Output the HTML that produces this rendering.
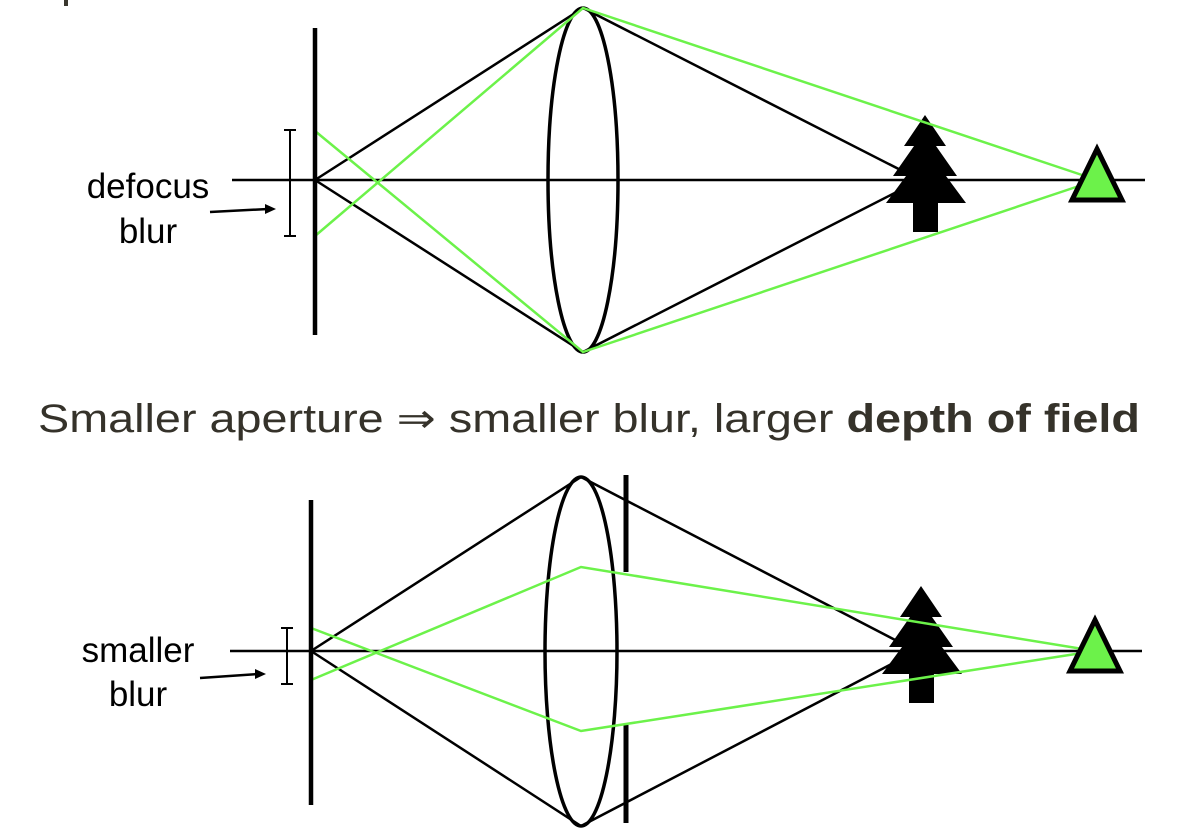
<!DOCTYPE html>
<html><head><meta charset="utf-8">
<style>
html,body{margin:0;padding:0;background:#fff;}
svg{display:block;}
text{font-family:"Liberation Sans",sans-serif;}
</style></head>
<body>
<svg id="s" width="1194" height="836" viewBox="0 0 1194 836" xmlns="http://www.w3.org/2000/svg">
<rect x="64" y="0" width="4" height="6" fill="#3a372e"/>
<text x="38" y="432" font-size="40" fill="#35322a" textLength="1102" lengthAdjust="spacingAndGlyphs">Smaller aperture ⇒ smaller blur,  larger <tspan font-weight="bold">depth of field</tspan></text>
<text x="148" y="198" font-size="35" text-anchor="middle" fill="#000">defocus</text>
<text x="148" y="243" font-size="35" text-anchor="middle" fill="#000">blur</text>
<text x="138" y="662" font-size="35" text-anchor="middle" fill="#000">smaller</text>
<text x="138" y="706" font-size="35" text-anchor="middle" fill="#000">blur</text>
</svg>
<script>
const NS="http://www.w3.org/2000/svg";
const svgEl=document.getElementById('s');
function mk(tag,attrs,name){const e=document.createElementNS(NS,tag);for(const k in attrs)e.setAttribute(k,attrs[k]);


svgEl.appendChild(e);return e;}
const G="#6cf24a";
const topD={axisY:180,sensorX:315,sensorTop:28,sensorBot:335,lensX:583,lensTop:8,lensBot:352,lensRx:35,
 greenLensTop:8,greenLensBot:352,greenSensorTop:131,greenSensorBot:236,treeX:925,treeTop:115,triX:1097,axisL:232,axisR:1145,
 bracketX:290,bracketTop:130,bracketBot:236,focusX:930,arrow:[210,212,276,209],aperture:null};
const botD={axisY:651,sensorX:311,sensorTop:500,sensorBot:805,lensX:581,lensTop:477,lensBot:826,lensRx:36,
 greenLensTop:567,greenLensBot:731,greenSensorTop:628,greenSensorBot:680,treeX:921,treeTop:586,triX:1095,axisL:230,axisR:1142,
 bracketX:287,bracketTop:628,bracketBot:684,focusX:926,arrow:[200,678,266,674],aperture:{x:626,t1:475,b1:572,t2:725,b2:823}};
function draw(d,p){
 mk('line',{x1:d.axisL,y1:d.axisY,x2:d.axisR,y2:d.axisY,stroke:'#000','stroke-width':2.5},p+'optical-axis');
 mk('polyline',{points:`${d.sensorX},${d.axisY} ${d.lensX},${d.lensTop} ${d.focusX},${d.axisY+5}`,fill:'none',stroke:'#000','stroke-width':2.5},p+'black-ray-top');
 mk('polyline',{points:`${d.sensorX},${d.axisY} ${d.lensX},${d.lensBot} ${d.focusX},${d.axisY-5}`,fill:'none',stroke:'#000','stroke-width':2.5},p+'black-ray-bottom');
 mk('ellipse',{cx:d.lensX,cy:(d.lensTop+d.lensBot)/2,rx:d.lensRx,ry:(d.lensBot-d.lensTop)/2,fill:'none',stroke:'#000','stroke-width':3.5},p+'lens');
 if(d.aperture){const a=d.aperture;
  mk('line',{x1:a.x,y1:a.t1,x2:a.x,y2:a.b1,stroke:'#000','stroke-width':5},p+'aperture-top');
  mk('line',{x1:a.x,y1:a.t2,x2:a.x,y2:a.b2,stroke:'#000','stroke-width':5},p+'aperture-bottom');}
 const tx=d.treeX,ty=d.treeTop;
 mk('polygon',{points:`${tx},${ty} ${tx+21},${ty+31} ${tx+11},${ty+31} ${tx+32},${ty+61} ${tx+21},${ty+61} ${tx+41},${ty+88} ${tx+13},${ty+88} ${tx+13},${ty+117} ${tx-12},${ty+117} ${tx-12},${ty+88} ${tx-39},${ty+88} ${tx-19},${ty+61} ${tx-32},${ty+61} ${tx-11},${ty+31} ${tx-21},${ty+31}`,fill:'#000'},p+'tree');
 mk('polyline',{points:`${d.triX},${d.axisY} ${d.lensX},${d.greenLensTop} ${d.sensorX},${d.greenSensorBot}`,fill:'none',stroke:G,'stroke-width':2.5},p+'green-ray-top');
 mk('polyline',{points:`${d.triX},${d.axisY} ${d.lensX},${d.greenLensBot} ${d.sensorX},${d.greenSensorTop}`,fill:'none',stroke:G,'stroke-width':2.5},p+'green-ray-bottom');
 mk('polygon',{points:`${d.triX},${d.axisY-31} ${d.triX+25},${d.axisY+20} ${d.triX-25},${d.axisY+20}`,fill:G,stroke:'#000','stroke-width':5},p+'triangle-object');
 mk('line',{x1:d.sensorX,y1:d.sensorTop,x2:d.sensorX,y2:d.sensorBot,stroke:'#000','stroke-width':4.5},p+'sensor');
 const b=d.bracketX;
 mk('path',{d:`M${b-6},${d.bracketTop}H${b+6}M${b},${d.bracketTop}V${d.bracketBot}M${b-6},${d.bracketBot}H${b+6}`,fill:'none',stroke:'#000','stroke-width':2},p+'blur-bracket');
 const a=d.arrow;
 mk('line',{x1:a[0],y1:a[1],x2:a[2]-8,y2:a[3],stroke:'#000','stroke-width':2.5},p+'arrow-line');
 mk('polygon',{points:`${a[2]},${a[3]} ${a[2]-11},${a[3]-5} ${a[2]-11},${a[3]+5}`,fill:'#000'},p+'arrow-head');
}
draw(topD,'top-');
draw(botD,'bottom-');
</script>
</body></html>
